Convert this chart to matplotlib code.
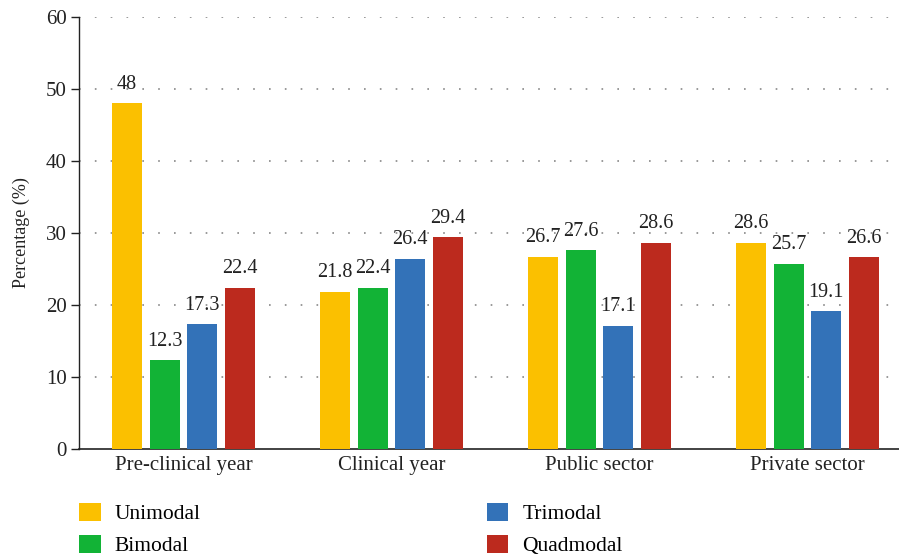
import matplotlib
matplotlib.use("Agg")
import matplotlib.pyplot as plt
import numpy as np

categories = ["Pre-clinical year", "Clinical year", "Public sector", "Private sector"]
series_names = ["Unimodal", "Bimodal", "Trimodal", "Quadmodal"]
unimodal = [48, 21.8, 26.7, 28.6]
bimodal = [12.3, 22.4, 27.6, 25.7]
trimodal = [17.3, 26.4, 17.1, 19.1]
quadmodal = [22.4, 29.4, 28.6, 26.6]
colors = ["#FBC000", "#12B336", "#3372B8", "#BC2A1E"]
yticks = [0, 10, 20, 30, 40, 50, 60]

plt.rcParams['font.family'] = ['Liberation Serif', 'DejaVu Serif']

fig = plt.figure(figsize=(8.99, 5.57), dpi=100)
ax = fig.add_axes([79/899, 1-449/557, 1-79/899, (449-17)/557])

x = np.arange(len(categories))
width = 0.144
step = 0.181
data = [unimodal, bimodal, trimodal, quadmodal]
for i, (vals, name, c) in enumerate(zip(data, series_names, colors)):
    pos = x + (i - 1.5) * step
    ax.bar(pos, vals, width, color=c, label=name, zorder=3)
    for p, v in zip(pos, vals):
        ax.text(p, v + 1.35, f"{v:g}", ha='center', va='bottom', fontsize=14.5, color='#222222')

ax.set_ylim(0, 60)
ax.set_xlim(-0.502, 3.44)
ax.set_yticks(yticks)
ax.set_xticks(x)
ax.set_xticklabels(categories)
ax.tick_params(axis='y', direction='out', length=6, width=1, labelsize=15, colors='#222222', pad=3)
ax.tick_params(axis='x', length=0, labelsize=15, colors='#222222', pad=5)
ax.set_ylabel("Percentage (%)", fontsize=13, color='#222222', labelpad=11)
for s in ['top', 'right']:
    ax.spines[s].set_visible(False)
ax.spines['left'].set_color('#222222')
ax.spines['bottom'].set_color('#222222')
ax.spines['left'].set_linewidth(1)
ax.spines['bottom'].set_linewidth(1.2)
for t in yticks[1:]:
    ax.axhline(t, color='#888888', linestyle=(0, (1, 8.5)), linewidth=1.2, zorder=1)

leg = fig.legend(loc='upper left', bbox_to_anchor=(79/899, 1-503/557), ncol=2, frameon=False,
                 fontsize=15.5, handlelength=1.0, handleheight=0.9, handletextpad=0.65,
                 columnspacing=13.3, labelspacing=0.5, borderpad=0, borderaxespad=0)

fig.savefig("out.png", dpi=100)
